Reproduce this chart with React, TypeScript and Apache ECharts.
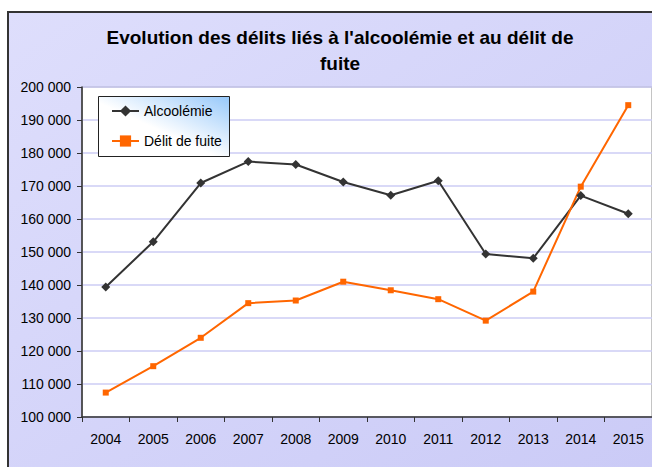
import React, { useEffect, useRef } from "react";
import * as echarts from "echarts";

const years = ["2004", "2005", "2006", "2007", "2008", "2009", "2010", "2011", "2012", "2013", "2014", "2015"];
const alcoolemie = [139400, 153100, 170900, 177400, 176500, 171200, 167200, 171600, 149400, 148100, 167100, 161600];
const deliteFuite = [107400, 115400, 124000, 134500, 135300, 141000, 138400, 135700, 129200, 138000, 169800, 194500];
const titleText = "Evolution des délits liés à l'alcoolémie et au délit de\nfuite";

const fmt = (v: number) => String(v).replace(/\B(?=(\d{3})+(?!\d))/g, " ");

export default function App() {
  const ref = useRef<HTMLDivElement>(null);
  useEffect(() => {
    if (!ref.current) return;
    const chart = echarts.init(ref.current, null, { renderer: "svg" });
    chart.setOption({
      animation: false,
      textStyle: { fontFamily: "Liberation Sans, Arial, sans-serif" },
      title: {
        text: titleText,
        left: 335,
        textAlign: "center",
        top: 19,
        textStyle: { fontSize: 19, fontWeight: "bold", color: "#000", lineHeight: 26, fontFamily: "Liberation Sans, Arial, sans-serif" },
      },
      graphic: [
        {
          type: "rect",
          z: -10,
          shape: { x: 8, y: 12, width: 700, height: 500 },
          style: {
            fill: new echarts.graphic.LinearGradient(0, 0, 1, 1, [
              { offset: 0, color: "#DEDEFC" },
              { offset: 1, color: "#C9C9F6" },
            ]),
            stroke: "#333",
            lineWidth: 2,
          },
        },
        {
          type: "rect",
          z: 3,
          shape: { x: 98.5, y: 96.5, width: 131, height: 60 },
          style: {
            fill: new echarts.graphic.LinearGradient(0, 1, 1, 0, [
              { offset: 0, color: "#FFFFFF" },
              { offset: 0.45, color: "#FFFFFF" },
              { offset: 1, color: "#96C8FA" },
            ]),
            stroke: "#222",
            lineWidth: 1,
          },
        },
      ],
      legend: {
        orient: "vertical",
        left: 111,
        top: 104,
        padding: 0,
        z: 5,
        itemWidth: 27,
        itemHeight: 14,
        itemGap: 16,
        textStyle: { fontSize: 14, color: "#000", fontFamily: "Liberation Sans, Arial, sans-serif" },
        data: ["Alcoolémie", "Délit de fuite"],
      },
      grid: {
        left: 82,
        right: 0,
        top: 87,
        bottom: 50,
        show: true,
        backgroundColor: "#FFFFFF",
        borderColor: "#888",
        borderWidth: 1,
      },
      xAxis: {
        type: "category",
        data: years,
        boundaryGap: true,
        axisLine: { lineStyle: { color: "#333", width: 1.5 } },
        axisTick: { show: true, length: 5, lineStyle: { color: "#333" } },
        axisLabel: { fontSize: 14, color: "#000", margin: 15 },
      },
      yAxis: {
        type: "value",
        min: 100000,
        max: 200000,
        interval: 10000,
        axisLine: { show: true, lineStyle: { color: "#333", width: 1.5 } },
        axisTick: { show: true, length: 5, lineStyle: { color: "#333" } },
        axisLabel: { fontSize: 14, color: "#000", margin: 11, formatter: (v: number) => fmt(v) },
        splitLine: { lineStyle: { color: "#CCCCF4", width: 1.5 } },
      },
      series: [
        {
          name: "Alcoolémie",
          type: "line",
          data: alcoolemie,
          symbol: "diamond",
          symbolSize: 9,
          itemStyle: { color: "#333333" },
          lineStyle: { color: "#333333", width: 2 },
        },
        {
          name: "Délit de fuite",
          type: "line",
          data: deliteFuite,
          symbol: "rect",
          symbolSize: 6,
          itemStyle: { color: "#FF6600" },
          lineStyle: { color: "#FF6600", width: 2 },
        },
      ],
    });
    return () => chart.dispose();
  }, []);
  return <div ref={ref} style={{ position: "absolute", left: 0, top: 0, width: 652, height: 467 }} />;
}
